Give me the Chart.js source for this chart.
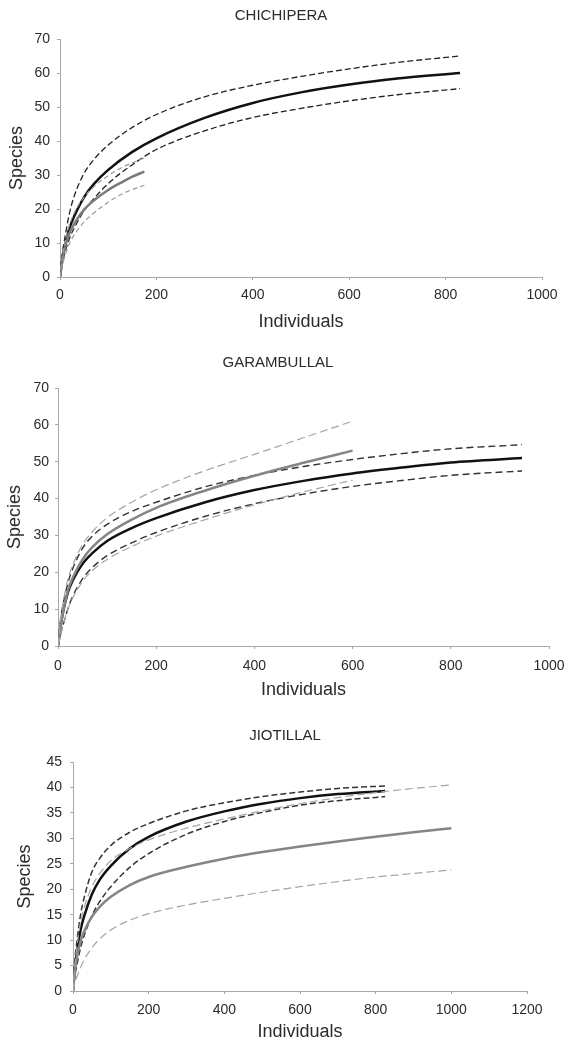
<!DOCTYPE html>
<html>
<head>
<meta charset="utf-8">
<script src="https://cdn.jsdelivr.net/npm/chart.js"></script>
<style>
  body { margin: 0; background: #fff; }
  .panel { position: absolute; left: 0; }
</style>
</head>
<body>
<canvas id="c1" class="panel" width="568" height="340" style="top:0px"></canvas>
<canvas id="c2" class="panel" width="568" height="365" style="top:340px"></canvas>
<canvas id="c3" class="panel" width="568" height="338" style="top:705px"></canvas>
<script>
// --- naslovi ---
const titles = ['CHICHIPERA', 'GARAMBULLAL', 'JIOTILLAL'];

// --- CHICHIPERA ---
const chiX = [0, 5, 10, 20, 30, 50, 70, 100, 150, 200, 300, 400, 500, 600, 700, 830];
const chiObs = [0, 5.5, 9, 14.5, 18, 23.5, 27.3, 31.5, 36.8, 40.8, 46.8, 51.2, 54.3, 56.6, 58.4, 60];
const chiObsHi = [0, 7, 11.5, 19, 24, 30.5, 34.5, 38.8, 44, 47.8, 53, 56.4, 59, 61.2, 63.1, 65];
const chiObsLo = [0, 4, 7, 11.5, 14.5, 19.5, 23, 27.5, 33, 37.5, 43, 46.9, 49.6, 51.8, 53.6, 55.4];
const chiX2 = [0, 5, 10, 20, 30, 50, 70, 100, 130, 150, 175];
const chiEst = [0, 5, 8.5, 13, 15.8, 19.8, 22.5, 25.6, 28, 29.5, 31];
const chiEstHi = [0, 6, 10, 15.5, 19, 23.5, 26.5, 29.8, 32.3, 33.6, 35];
const chiEstLo = [0, 3.5, 6, 10, 12.5, 16.2, 18.8, 22, 24.5, 25.7, 27];

// --- GARAMBULLAL ---
const garX = [0, 5, 10, 20, 30, 50, 70, 100, 150, 200, 300, 400, 500, 600, 700, 800, 945];
const garObs = [0, 5, 9, 14.5, 17.8, 22.3, 25.2, 28.5, 32, 34.7, 39, 42.3, 44.8, 46.8, 48.4, 49.8, 51];
const garObsHi = [0, 7, 11, 17, 21, 26.5, 29.8, 33, 36.5, 39, 43.2, 46.3, 48.7, 50.6, 52.2, 53.5, 54.6];
const garObsLo = [0, 3, 5.5, 10, 13.5, 18.2, 21.3, 24.5, 28, 30.8, 35.2, 38.6, 41.2, 43.3, 44.9, 46.3, 47.5];
const garX2 = [0, 5, 10, 20, 30, 50, 70, 100, 150, 200, 300, 400, 500, 600];
const garEst = [0, 5, 9, 15, 18.5, 23.5, 26.8, 30.3, 34.3, 37.5, 42.2, 46.2, 49.7, 53];
const garEstHi = [0, 7, 11.5, 18, 22, 27.5, 31, 34.8, 39, 42.4, 47.6, 52, 56.5, 61];
const garEstLo = [0, 3, 5.5, 10, 13, 17.5, 20.5, 23.5, 27, 29.8, 34.3, 38.3, 41.8, 45];

// --- JIOTILLAL ---
const jioX = [0, 5, 10, 20, 30, 50, 70, 100, 150, 200, 300, 400, 500, 600, 700, 825];
const jioObs = [0, 4.5, 7.5, 12, 14.8, 19, 21.8, 24.6, 28, 30.3, 33.3, 35.3, 36.8, 37.9, 38.7, 39.3];
const jioObsHi = [0, 6, 9.5, 15, 18.5, 23.4, 26, 28.6, 31.2, 32.9, 35.4, 37, 38.2, 39.1, 39.8, 40.3];
const jioObsLo = [0, 3, 5, 8.5, 11, 14.8, 17.5, 20.5, 24.3, 27, 30.8, 33.3, 35.1, 36.5, 37.4, 38.2];
const jioX2 = [0, 5, 10, 20, 30, 50, 70, 100, 150, 200, 300, 400, 500, 600, 700, 800, 900, 1000];
const jioEst = [0, 4, 6.5, 9.8, 11.8, 14.6, 16.5, 18.5, 20.8, 22.4, 24.4, 26, 27.3, 28.4, 29.4, 30.3, 31.2, 32];
const jioEstHi = [0, 5, 8.5, 13.5, 16.5, 20.5, 23, 25.6, 28, 29.7, 32, 33.8, 35.4, 36.8, 38, 39, 39.8, 40.5];
const jioEstLo = [0, 1.5, 2.7, 4.6, 6.2, 8.5, 10.2, 12, 13.9, 15.2, 16.9, 18.2, 19.4, 20.5, 21.5, 22.4, 23.1, 23.8];

// --- osi ---
const xMax = [1000, 1000, 1200];
const xStep = [200, 200, 200];
const yMax = [70, 70, 45];
const yStep = [10, 10, 5];

const FONT = 'Liberation Sans, Arial, sans-serif';
const AXIS = '#a8a8a8';
const TXT = '#2b2b2b';

function pts(xs, ys) {
    return xs.map((x, i) => ({ x: x, y: ys[i] }));
}

function line(xs, ys, color, width, dash) {
    return {
        data: pts(xs, ys),
        borderColor: color,
        borderWidth: width,
        borderDash: dash || [],
        pointRadius: 0,
        cubicInterpolationMode: 'monotone',
        fill: false
    };
}

// naslov narišemo sami, da ga lahko postavimo točno
const titlePlugin = {
    id: 'panelTitle',
    afterDraw(chart, args, opts) {
        const ctx = chart.ctx;
        ctx.save();
        ctx.font = '15px ' + FONT;
        ctx.fillStyle = TXT;
        ctx.textAlign = 'center';
        ctx.textBaseline = 'middle';
        ctx.fillText(opts.text, opts.x, opts.y);
        ctx.restore();
    }
};

function makeChart(id, idx, datasets, L) {
    new Chart(document.getElementById(id), {
        type: 'line',
        data: { datasets: datasets },
        plugins: [titlePlugin],
        options: {
            responsive: false,
            animation: false,
            layout: { padding: { top: L.top, right: L.right, left: 0, bottom: 0 } },
            plugins: {
                legend: { display: false },
                tooltip: { enabled: false },
                panelTitle: { text: titles[idx], x: L.tx, y: L.ty }
            },
            scales: {
                x: {
                    type: 'linear',
                    min: 0, max: xMax[idx],
                    grid: { drawOnChartArea: false, drawTicks: true, tickLength: 3, color: AXIS },
                    border: { color: AXIS, width: 1 },
                    ticks: {
                        stepSize: xStep[idx], padding: L.xpad, color: TXT, maxRotation: 0,
                        font: { family: FONT, size: 14 },
                        callback: v => String(v)
                    },
                    title: { display: true, text: 'Individuals', color: TXT, font: { family: FONT, size: 18 }, padding: { top: 0, bottom: L.xtp } },
                    afterFit(s) { s.height = L.xh; s.paddingLeft = 0; s.paddingRight = 0; }
                },
                y: {
                    min: 0, max: yMax[idx],
                    grid: { drawOnChartArea: false, drawTicks: true, tickLength: 3, color: AXIS },
                    border: { color: AXIS, width: 1 },
                    ticks: {
                        stepSize: yStep[idx], padding: L.ypad, color: TXT,
                        font: { family: FONT, size: 14 },
                        callback: v => String(v)
                    },
                    title: { display: true, text: 'Species', color: TXT, font: { family: FONT, size: 18 }, padding: { top: L.ytp, bottom: 0 } },
                    afterFit(s) { s.width = L.yw; s.paddingTop = 0; s.paddingBottom = 0; }
                }
            }
        }
    });
}

makeChart('c1', 0, [
    line(chiX2, chiEstHi, '#9a9a9a', 1.2, [5, 3]),
    line(chiX2, chiEstLo, '#9a9a9a', 1.2, [5, 3]),
    line(chiX2, chiEst, '#7a7a7a', 2.5),
    line(chiX, chiObsHi, '#222', 1.3, [6, 3]),
    line(chiX, chiObsLo, '#222', 1.3, [6, 3]),
    line(chiX, chiObs, '#111', 2.5)
], { top: 39, right: 26, tx: 281, ty: 16, xh: 63, xpad: 6.6, xtp: 7, yw: 60, ypad: 7, ytp: 6 });

makeChart('c2', 1, [
    line(garX2, garEstHi, '#a5a5a5', 1.2, [8, 4]),
    line(garX2, garEstLo, '#a5a5a5', 1.2, [8, 4]),
    line(garX2, garEst, '#858585', 2.5),
    line(garX, garObsHi, '#333', 1.4, [7, 4]),
    line(garX, garObsLo, '#333', 1.4, [7, 4]),
    line(garX, garObs, '#111', 2.5)
], { top: 48, right: 19, tx: 278, ty: 23, xh: 59, xpad: 8.6, xtp: 4, yw: 58, ypad: 6, ytp: 4 });

makeChart('c3', 2, [
    line(jioX2, jioEstHi, '#a5a5a5', 1.2, [8, 4]),
    line(jioX2, jioEstLo, '#a5a5a5', 1.2, [8, 4]),
    line(jioX2, jioEst, '#858585', 2.5),
    line(jioX, jioObsHi, '#333', 1.5, [6, 3]),
    line(jioX, jioObsLo, '#333', 1.5, [6, 3]),
    line(jioX, jioObs, '#111', 2.5)
], { top: 57, right: 41, tx: 285, ty: 31, xh: 52, xpad: 7.6, xtp: 0, yw: 73, ypad: 8, ytp: 14 });
</script>
</body>
</html>
